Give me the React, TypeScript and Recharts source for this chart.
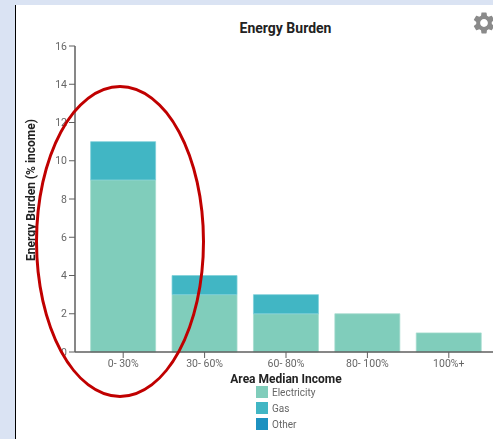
import React from 'react';
import { BarChart, Bar, XAxis, YAxis, Legend } from 'recharts';

const categories = ['0- 30%', '30- 60%', '60- 80%', '80- 100%', '100%+'];
const electricity = [9, 3, 2, 2, 1];
const gas = [2, 1, 1, 0, 0];
const other = [0, 0, 0, 0, 0];
const yTicks = [0, 2, 4, 6, 8, 10, 12, 14, 16];

const data = categories.map((name, i) => ({
  name,
  Electricity: electricity[i],
  Gas: gas[i],
  Other: other[i],
}));

const font = 'Roboto, sans-serif';
const axisColor = '#5f5f5f';
const tickStyle = { fontSize: 10.5, fontFamily: font, fill: '#666' };

const LegendBox = ({ payload }: any) => (
  <div style={{ fontFamily: font, fontSize: 10, color: '#666' }}>
    {(payload || []).map((p: any) => (
      <div key={p.value} style={{ display: 'flex', alignItems: 'center', height: 16 }}>
        <div style={{ width: 12, height: 12, background: p.color, marginRight: 4 }} />
        {p.value}
      </div>
    ))}
  </div>
);

export default function App() {
  return (
    <div style={{ position: 'absolute', left: 0, top: 0, width: 493, height: 439, background: '#dae3f3', overflow: 'hidden' }}>
      <div style={{ position: 'absolute', left: 15, top: 5, width: 478, height: 434, background: '#fff', borderLeft: '1px solid #000', boxSizing: 'border-box' }} />
      <div style={{ position: 'absolute', left: 0, top: 0, filter: 'blur(0.35px)' }}>
        <BarChart
          width={493}
          height={439}
          data={data}
          barCategoryGap="10%"
          margin={{ top: 46, right: 0, bottom: 9, left: 0 }}
        >
          <XAxis
            dataKey="name"
            height={30}
            padding={{ left: 7.5, right: 3.5 }}
            tick={tickStyle}
            tickLine={{ stroke: axisColor }}
            tickSize={6}
            axisLine={{ stroke: axisColor, strokeWidth: 1.5 }}
            interval={0}
            label={{ value: 'Area Median Income', position: 'insideBottom', dx: 2, dy: 6, style: { fontSize: 12, fontWeight: 700, fontFamily: font, fill: '#222' } }}
          />
          <YAxis
            width={75}
            domain={[0, 16]}
            ticks={yTicks}
            interval={0}
            tick={tickStyle}
            tickLine={{ stroke: axisColor }}
            tickSize={6}
            axisLine={{ stroke: axisColor, strokeWidth: 1.5 }}
            label={{ value: 'Energy Burden (% income)', angle: -90, position: 'insideLeft', dx: 26, dy: -9, style: { textAnchor: 'middle', fontSize: 12, fontWeight: 700, fontFamily: font, fill: '#222' } }}
          />
          <Legend
            content={<LegendBox />}
            layout="vertical"
            wrapperStyle={{ position: 'absolute', left: 256, top: 384, width: 90, bottom: 'auto' }}
          />
          <Bar dataKey="Electricity" stackId="a" fill="#80cdbb" stroke="#a5dccf" strokeWidth={0.75} isAnimationActive={false} />
          <Bar dataKey="Gas" stackId="a" fill="#41b6c4" stroke="#7fd0da" strokeWidth={0.75} isAnimationActive={false} />
          <Bar dataKey="Other" stackId="a" fill="#1d91c0" isAnimationActive={false} />
        </BarChart>
      </div>
      <div style={{ position: 'absolute', left: 168, width: 235, top: 20, textAlign: 'center', fontFamily: font, fontSize: 14, fontWeight: 700, color: '#222' }}>
        Energy Burden
      </div>
      <svg style={{ position: 'absolute', left: 470.5, top: 10 }} width={26} height={26} viewBox="0 0 24 24">
        <path fill="#8a8a8a" d="M19.14 12.94c.04-.3.06-.61.06-.94 0-.32-.02-.64-.07-.94l2.03-1.58a.49.49 0 0 0 .12-.61l-1.92-3.32a.488.488 0 0 0-.59-.22l-2.39.96c-.5-.38-1.03-.7-1.62-.94l-.36-2.54a.484.484 0 0 0-.48-.41h-3.84c-.24 0-.43.17-.47.41l-.36 2.54c-.59.24-1.13.57-1.62.94l-2.39-.96c-.22-.08-.47 0-.59.22L2.74 8.87c-.12.21-.08.47.12.61l2.03 1.58c-.05.3-.09.63-.09.94s.02.64.07.94l-2.03 1.58a.49.49 0 0 0-.12.61l1.92 3.32c.12.22.37.29.59.22l2.39-.96c.5.38 1.03.7 1.62.94l.36 2.54c.05.24.24.41.48.41h3.84c.24 0 .44-.17.47-.41l.36-2.54c.59-.24 1.13-.56 1.62-.94l2.39.96c.22.08.47 0 .59-.22l1.92-3.32c.12-.22.07-.47-.12-.61l-2.01-1.58zM12 15.6c-1.98 0-3.6-1.62-3.6-3.6s1.62-3.6 3.6-3.6 3.6 1.62 3.6 3.6-1.62 3.6-3.6 3.6z" />
      </svg>
      <div style={{ position: 'absolute', left: 35, top: 85, width: 170, height: 313, boxSizing: 'border-box', border: '3px solid #c00000', borderRadius: '50%' }} />
    </div>
  );
}
